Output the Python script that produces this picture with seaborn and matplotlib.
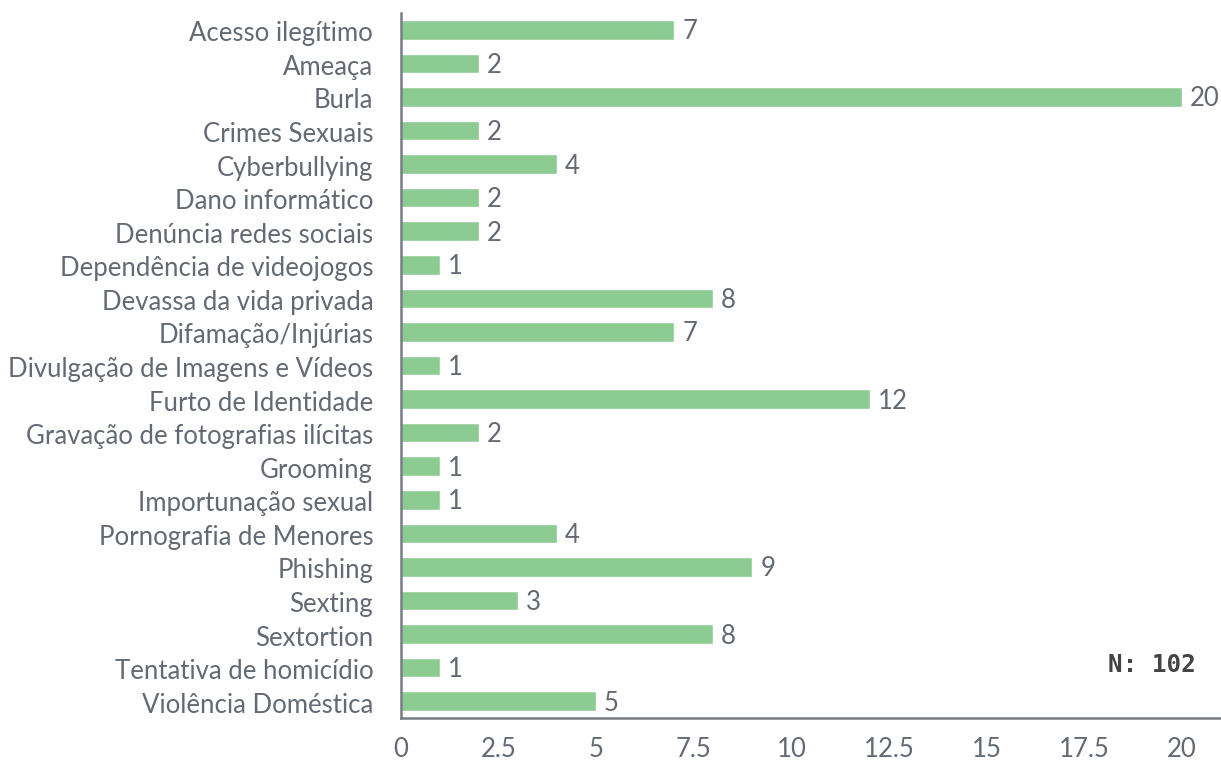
import matplotlib
matplotlib.use("Agg")
import matplotlib.pyplot as plt
import matplotlib.transforms as mtransforms
import seaborn as sns
import pandas as pd

categories = ["Acesso ilegítimo", "Ameaça", "Burla", "Crimes Sexuais", "Cyberbullying",
              "Dano informático", "Denúncia redes sociais", "Dependência de videojogos",
              "Devassa da vida privada", "Difamação/Injúrias", "Divulgação de Imagens e Vídeos",
              "Furto de Identidade", "Gravação de fotografias ilícitas", "Grooming",
              "Importunação sexual", "Pornografia de Menores", "Phishing", "Sexting",
              "Sextortion", "Tentativa de homicídio", "Violência Doméstica"]
values = [7, 2, 20, 2, 4, 2, 2, 1, 8, 7, 1, 12, 2, 1, 1, 4, 9, 3, 8, 1, 5]
xticks = [0, 2.5, 5, 7.5, 10, 12.5, 15, 17.5, 20]
xtick_labels = ["0", "2.5", "5", "7.5", "10", "12.5", "15", "17.5", "20"]
note = "N: 102"

sns.set_theme(style="white")
plt.rcParams['font.family'] = ['Lato', 'DejaVu Sans']

df = pd.DataFrame({"cat": categories, "val": values})
text_col = "#636a73"
spine_col = "#767c85"

fig = plt.figure(figsize=(12.21, 7.64), dpi=100)
ax = fig.add_axes([401/1221, 1 - 718/764, 1 - 401/1221, (718 - 13)/764])
sns.barplot(data=df, x="val", y="cat", color="#8ccb92", saturation=1, width=0.58, ax=ax)

for i, v in enumerate(values):
    ax.text(v + 0.2, i + 0.06, str(v), va="center", ha="left", fontsize=18.5,
            color=text_col)

ax.set_xlim(0, 21)
ax.set_ylim(20.5, -0.5)
ax.set_xticks(xticks)
ax.set_xticklabels(xtick_labels)
ax.set_xlabel("")
ax.set_ylabel("")
ax.tick_params(axis="both", labelsize=18.5, colors=text_col, length=0)
ax.tick_params(axis="y", pad=20)
ax.tick_params(axis="x", pad=14)
shift = mtransforms.ScaledTranslation(0, -4/100, fig.dpi_scale_trans)
for lbl in ax.get_yticklabels():
    lbl.set_va("center")
    lbl.set_transform(lbl.get_transform() + shift)
for s in ["top", "right"]:
    ax.spines[s].set_visible(False)
for s in ["left", "bottom"]:
    ax.spines[s].set_color(spine_col)
    ax.spines[s].set_linewidth(1.8)

fig.text(1152/1221, 1 - 665/764, note, ha="center", va="center", fontsize=17.5,
         fontweight="bold", color="#444444", family=["DejaVu Sans Mono"])

fig.savefig("out.png", dpi=100)
